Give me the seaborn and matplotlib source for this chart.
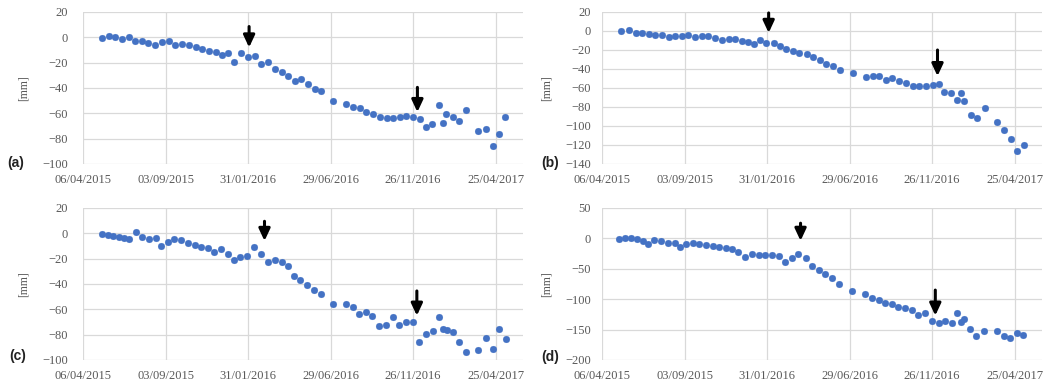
import pandas as pd
import matplotlib
matplotlib.use("Agg")
import matplotlib.pyplot as plt
import seaborn as sns

# Time origin of the displacement series and the date ticks
t0 = "2015-04-06"
tick_labels = ["06/04/2015", "03/09/2015", "31/01/2016", "29/06/2016", "26/11/2016", "25/04/2017"]

# Point (a): acquisition day (days after t0) and LOS displacement [mm]
days_a = [35, 47, 59, 71, 83, 95, 107, 119, 131, 144,
          156, 168, 180, 192, 205, 217, 229, 241, 253, 263,
          274, 288, 300, 312, 324, 336, 349, 361, 373, 385,
          397, 409, 421, 432, 455, 479, 491, 503, 515, 528,
          540, 552, 564, 576, 588, 600, 613, 623, 635, 648,
          654, 660, 672, 684, 697, 719, 733, 745, 757, 767]
disp_a = [-0.5, 1.3, 0.5, -1.3, 0.5, -2.6, -3.2, -4.7, -5.8, -3.9,
          -2.6, -5.8, -5.3, -5.8, -7.4, -9.2, -10.5, -11.8, -13.7, -12.6,
          -19.7, -12.6, -15.8, -14.5, -21, -19.2, -25, -27.6, -30.3, -34.2,
          -32.9, -36.8, -40.8, -42.1, -50, -52.6, -55.3, -55.8, -58.7, -60.5,
          -63.2, -63.7, -63.7, -63.2, -62.4, -62.6, -64.5, -71, -68.4, -53.2,
          -67.9, -60.5, -63.2, -66.3, -57.4, -74.2, -72.4, -86, -76.3, -63.2]

# Point (b)
days_b = [35, 49, 61, 73, 85, 97, 109, 121, 133, 145,
          157, 169, 181, 193, 206, 218, 230, 242, 254, 266,
          277, 287, 299, 313, 323, 335, 347, 359, 372, 384,
          396, 408, 420, 432, 456, 480, 492, 504, 516, 528,
          540, 553, 565, 577, 589, 601, 613, 622, 634, 646,
          653, 658, 670, 682, 696, 719, 731, 743, 755, 767]
disp_b = [-0.3, 0.7, -1.7, -1.7, -3.5, -4.5, -3.8, -6.3, -4.9, -4.9,
          -3.8, -6.3, -4.9, -4.9, -7, -9.8, -8, -8.7, -10.5, -11.5,
          -14, -9.8, -12.2, -12.2, -16, -19.2, -21.3, -22.7, -24.5, -27.3,
          -30.8, -35, -37, -40.6, -43.7, -48.3, -47.6, -47.6, -51.7, -50,
          -52.8, -55.2, -58, -58, -57.7, -57, -56.3, -64, -65, -72.7,
          -65, -73.4, -88.5, -92, -81.5, -95.5, -104, -114, -126, -120]

# Point (c)
days_c = [35, 45, 55, 65, 75, 84, 97, 107, 120, 132,
          142, 154, 166, 178, 191, 203, 215, 227, 239, 251,
          263, 274, 286, 298, 310, 324, 336, 349, 361, 373,
          383, 395, 408, 420, 432, 455, 478, 490, 502, 514,
          526, 539, 551, 563, 575, 587, 600, 611, 624, 636,
          648, 654, 662, 673, 684, 696, 719, 733, 745, 757,
          769]
disp_c = [-0.3, -1.3, -1.8, -2.6, -3.4, -4.7, 1.3, -2.9, -4.7, -3.9,
          -10, -6.8, -4.2, -5.3, -7.4, -9.2, -10.5, -11.8, -14.5, -12.1,
          -16, -21, -18.4, -17.9, -10.8, -16, -22.6, -21.3, -22.6, -25.8,
          -33.7, -37.1, -41, -45, -48.2, -56, -55.5, -58.2, -64, -62.1,
          -65.3, -73.2, -72.4, -66, -72.4, -69.7, -69.7, -85.8, -79.2, -77.1,
          -65.8, -75.3, -76.6, -77.6, -85.8, -93.4, -92.1, -82.9, -91.6, -75.8,
          -83.7]

# Point (d)
days_d = [31, 42, 53, 63, 74, 83, 95, 108, 120, 132,
          142, 152, 165, 177, 189, 201, 213, 225, 236, 248,
          260, 272, 285, 297, 309, 321, 333, 345, 357, 370,
          382, 394, 406, 418, 430, 454, 478, 491, 503, 515,
          527, 539, 551, 563, 575, 588, 600, 612, 624, 636,
          645, 653, 659, 669, 680, 694, 718, 730, 742, 754,
          766]
disp_d = [-0.5, 1.1, 1.1, -1.6, -4.4, -8.7, -2.7, -4.4, -7.1, -8.2,
          -14.2, -9.8, -7.1, -9.8, -10.9, -12.6, -14.2, -15.3, -18, -21.9,
          -30, -26.2, -27.3, -27.9, -27.9, -29, -38.8, -31.7, -25.1, -31.7,
          -45.4, -52.5, -59, -65.6, -74.3, -86.3, -91.8, -97.3, -101.6, -105.5,
          -108.2, -112.6, -114.8, -118, -125.7, -123.5, -136.6, -139.3, -136.6, -139.3,
          -122.9, -138.3, -132.8, -149.2, -160, -151.9, -153, -160, -163.9, -156.3,
          -159]

# Event markers: day, arrow tail value, arrow head value
event_days_a, event_top_a, event_tip_a = [302, 608], [8.5, -39.5], [-8, -59]
event_days_b, event_top_b, event_tip_b = [303, 610], [19, -20], [-2, -47.5]
event_days_c, event_top_c, event_tip_c = [330, 607], [9.5, -45.5], [-6, -65]
event_days_d, event_top_d, event_tip_d = [361, 606], [25, -85], [-4, -127]

# Y axis ranges (min, max, step)
yaxis_a = (-100, 20, 20)
yaxis_b = (-140, 20, 20)
yaxis_c = (-100, 20, 20)
yaxis_d = (-200, 50, 50)

sns.set_theme(style="white")
plt.rcParams["font.family"] = ["Liberation Serif", "DejaVu Serif"]

BLUE = "#4472C4"
GRID = "#d9d9d9"
TXT = "#595959"

origin = pd.Timestamp(t0)
tick_dates = pd.to_datetime(tick_labels, format="%d/%m/%Y")
x_end = origin + pd.Timedelta(days=800)


def to_dates(days):
    return origin + pd.to_timedelta(days, unit="D")


def draw_panel(ax, letter, letter_xy, ypad, days, disp, yaxis, ev_days, ev_top, ev_tip):
    df = pd.DataFrame({"date": to_dates(days), "mm": disp})
    sns.scatterplot(data=df, x="date", y="mm", ax=ax, color=BLUE, s=24,
                    edgecolor=BLUE, linewidth=0.2, zorder=3)
    for d, top, tip in zip(to_dates(ev_days), ev_top, ev_tip):
        ax.annotate("", xy=(d, tip), xytext=(d, top),
                    arrowprops=dict(arrowstyle="-|>,head_width=0.28,head_length=0.6",
                                    lw=2.2, color="black", shrinkA=0, shrinkB=0),
                    zorder=4)
    ymin, ymax, step = yaxis
    ax.set_ylim(ymin, ymax)
    ax.set_yticks(list(range(ymin, ymax + 1, step)))
    ax.set_xlim(origin, x_end)
    ax.set_xticks(tick_dates)
    ax.set_xticklabels(tick_labels)
    ax.grid(True, color=GRID, lw=0.9)
    ax.set_axisbelow(True)
    for s in ax.spines.values():
        s.set_visible(False)
    ax.tick_params(axis="both", length=0, colors=TXT, labelsize=9)
    ax.tick_params(axis="y", pad=ypad)
    ax.tick_params(axis="x", pad=7)
    ax.set_xlabel("")
    ax.set_ylabel("[mm]", fontsize=8.5, color=TXT, labelpad=9)
    fig.text(letter_xy[0], letter_xy[1], letter, fontsize=10, fontweight="bold",
             color="#222222", family=["Liberation Sans", "DejaVu Sans"],
             ha="left", va="center")


fig = plt.figure(figsize=(10.46, 3.86), dpi=100)
W, H = 1046.0, 386.0

ax_a = fig.add_axes([83 / W, 1 - 164 / H, 440 / W, 152 / H])
ax_b = fig.add_axes([602 / W, 1 - 164 / H, 440 / W, 152 / H])
ax_c = fig.add_axes([83 / W, 1 - 360 / H, 440 / W, 152 / H])
ax_d = fig.add_axes([602 / W, 1 - 360 / H, 440 / W, 152 / H])

draw_panel(ax_a, "(a)", (7 / W, 1 - 163 / H), 11, days_a, disp_a, yaxis_a,
           event_days_a, event_top_a, event_tip_a)
draw_panel(ax_b, "(b)", (541 / W, 1 - 163 / H), 8, days_b, disp_b, yaxis_b,
           event_days_b, event_top_b, event_tip_b)
draw_panel(ax_c, "(c)", (9 / W, 1 - 356 / H), 11, days_c, disp_c, yaxis_c,
           event_days_c, event_top_c, event_tip_c)
draw_panel(ax_d, "(d)", (541 / W, 1 - 357 / H), 8, days_d, disp_d, yaxis_d,
           event_days_d, event_top_d, event_tip_d)

fig.savefig("out.png", dpi=100, facecolor="white")
